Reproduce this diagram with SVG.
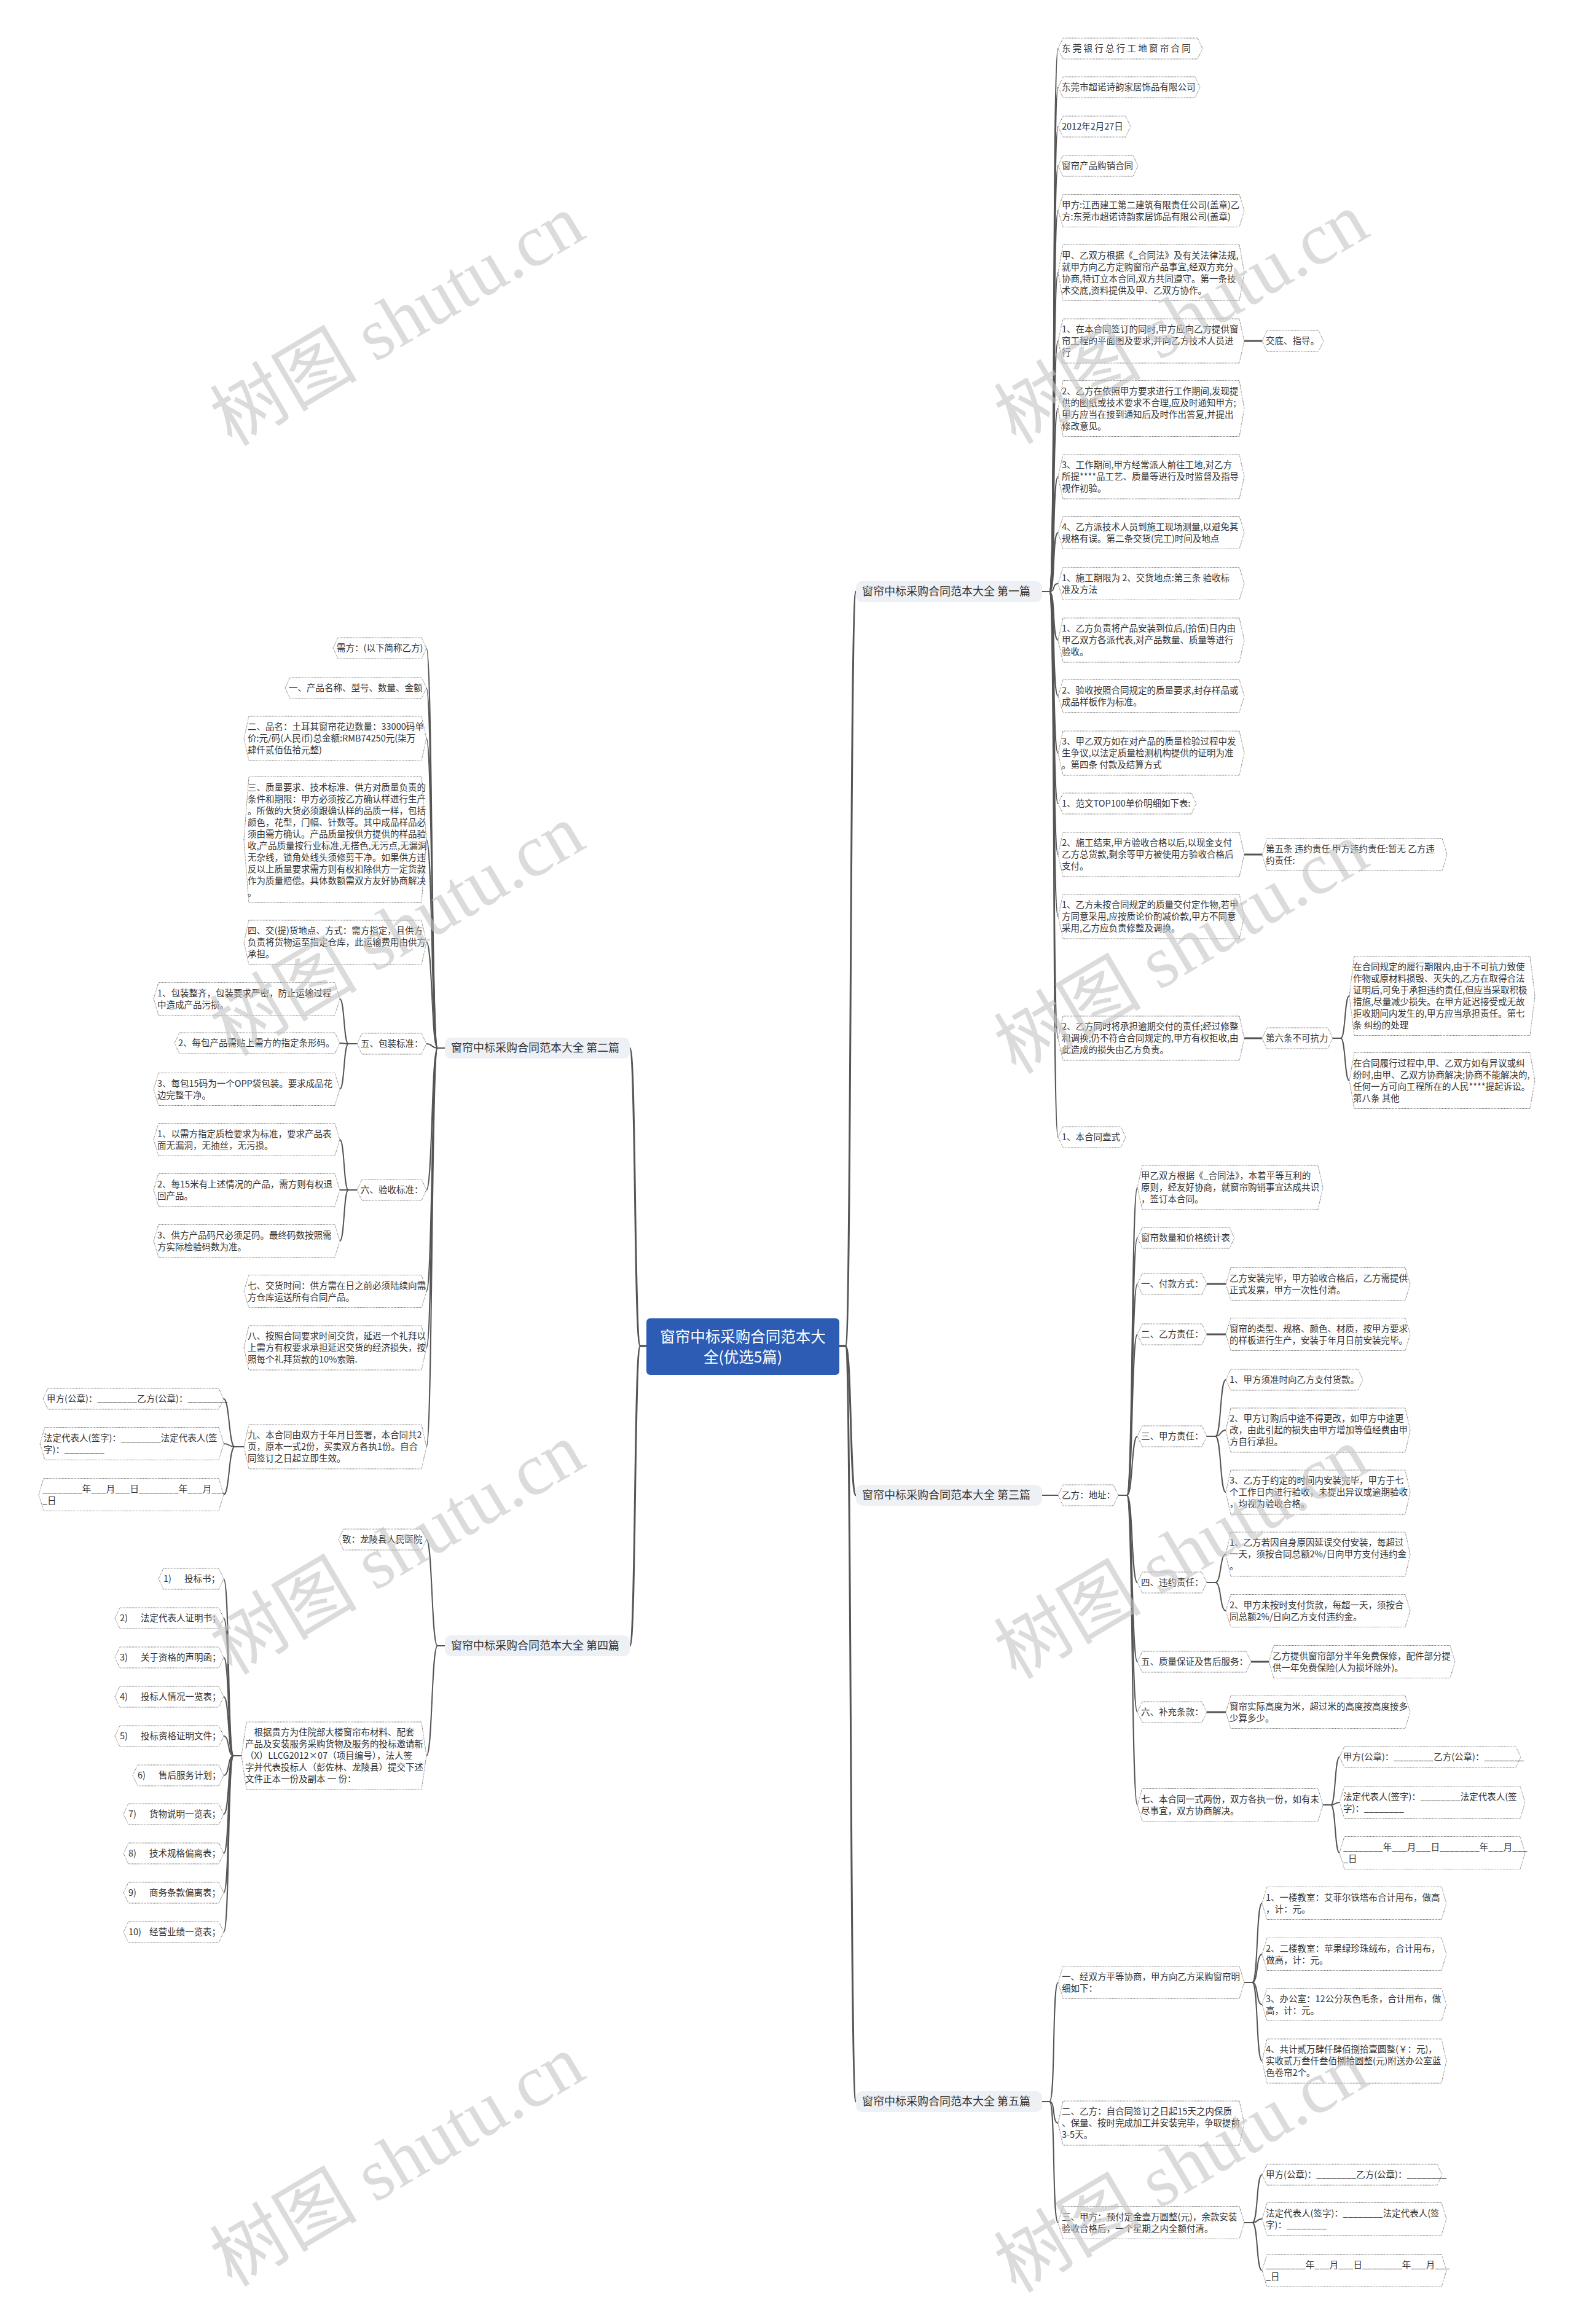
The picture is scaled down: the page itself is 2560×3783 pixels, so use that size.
<svg xmlns="http://www.w3.org/2000/svg" width="2560" height="3783" viewBox="0 0 2560 3783">
<style>
.n{fill:#fff;stroke:#666;stroke-width:1;stroke-dasharray:1.2 1.2}
.t{font-family:"Noto Sans CJK SC","Liberation Sans",sans-serif;font-size:14.5px;fill:#333}
.c{fill:none;stroke:#555;stroke-width:2}
.c3{fill:none;stroke:#555;stroke-width:3}
.lb{fill:#edf0f5}
.lt{font-family:"Noto Sans CJK SC","Liberation Sans",sans-serif;font-size:18px;fill:#333}
.ct{font-family:"Noto Sans CJK SC","Liberation Sans",sans-serif;font-size:24.5px;fill:#fff;text-anchor:middle}
.wm{font-family:"Liberation Serif","Noto Sans CJK SC",serif;font-size:120px;fill:#c4c4c4;opacity:0.6;text-anchor:middle}
</style>
<rect width="2560" height="3783" fill="#fff"/>
<g id="connectors">
<path class="c3" d="M1366,2191 L1376,2191 C1386,2191 1383,963 1393,963"/>
<path class="c3" d="M1366,2191 L1376,2191 C1386,2191 1383,2434 1393,2434"/>
<path class="c3" d="M1366,2191 L1376,2191 C1386,2191 1383,3421 1393,3421"/>
<path class="c3" d="M1052,2191 L1042,2191 C1032,2191 1035,1706 1025,1706"/>
<path class="c3" d="M1052,2191 L1042,2191 C1032,2191 1035,2679 1025,2679"/>
<path class="c" d="M1696,963 L1708,963 C1718,963 1712,79 1722,79"/>
<path class="c" d="M1696,963 L1708,963 C1718,963 1712,142 1722,142"/>
<path class="c" d="M1696,963 L1708,963 C1718,963 1712,206 1722,206"/>
<path class="c" d="M1696,963 L1708,963 C1718,963 1712,270 1722,270"/>
<path class="c" d="M1696,963 L1708,963 C1718,963 1712,343 1722,343"/>
<path class="c" d="M1696,963 L1708,963 C1718,963 1712,444 1722,444"/>
<path class="c" d="M1696,963 L1708,963 C1718,963 1712,555 1722,555"/>
<path class="c" d="M1696,963 L1708,963 C1718,963 1712,665 1722,665"/>
<path class="c" d="M1696,963 L1708,963 C1718,963 1712,776 1722,776"/>
<path class="c" d="M1696,963 L1708,963 C1718,963 1712,867 1722,867"/>
<path class="c" d="M1696,963 L1708,963 C1718,963 1712,950 1722,950"/>
<path class="c" d="M1696,963 L1708,963 C1718,963 1712,1042 1722,1042"/>
<path class="c" d="M1696,963 L1708,963 C1718,963 1712,1133 1722,1133"/>
<path class="c" d="M1696,963 L1708,963 C1718,963 1712,1226 1722,1226"/>
<path class="c" d="M1696,963 L1708,963 C1718,963 1712,1308 1722,1308"/>
<path class="c" d="M1696,963 L1708,963 C1718,963 1712,1391 1722,1391"/>
<path class="c" d="M1696,963 L1708,963 C1718,963 1712,1492 1722,1492"/>
<path class="c" d="M1696,963 L1708,963 C1718,963 1712,1690 1722,1690"/>
<path class="c" d="M1696,963 L1708,963 C1718,963 1712,1851 1722,1851"/>
<path class="c3" d="M2025,555 L2054,555"/>
<path class="c3" d="M2025,1391 L2054,1391"/>
<path class="c3" d="M2025,1690 L2054,1690"/>
<path class="c" d="M2169,1690 L2182,1690 C2190,1690 2188,1621 2196,1621"/>
<path class="c" d="M2169,1690 L2182,1690 C2190,1690 2188,1759 2196,1759"/>
<path class="c" d="M1696,2434 L1722,2434"/>
<path class="c" d="M1820,2434 L1834,2434 C1844,2434 1841,1933 1851,1933"/>
<path class="c" d="M1820,2434 L1834,2434 C1844,2434 1841,2015 1851,2015"/>
<path class="c" d="M1820,2434 L1834,2434 C1844,2434 1841,2090 1851,2090"/>
<path class="c" d="M1820,2434 L1834,2434 C1844,2434 1841,2172 1851,2172"/>
<path class="c" d="M1820,2434 L1834,2434 C1844,2434 1841,2338 1851,2338"/>
<path class="c" d="M1820,2434 L1834,2434 C1844,2434 1841,2576 1851,2576"/>
<path class="c" d="M1820,2434 L1834,2434 C1844,2434 1841,2705 1851,2705"/>
<path class="c" d="M1820,2434 L1834,2434 C1844,2434 1841,2787 1851,2787"/>
<path class="c" d="M1820,2434 L1834,2434 C1844,2434 1841,2938 1851,2938"/>
<path class="c3" d="M1964,2090 L1995,2090"/>
<path class="c3" d="M1964,2172 L1995,2172"/>
<path class="c" d="M1964,2338 L1978,2338 C1988,2338 1985,2246 1995,2246"/>
<path class="c" d="M1964,2338 L1978,2338 C1988,2338 1985,2328 1995,2328"/>
<path class="c" d="M1964,2338 L1978,2338 C1988,2338 1985,2429 1995,2429"/>
<path class="c" d="M1964,2576 L1978,2576 C1988,2576 1985,2530 1995,2530"/>
<path class="c" d="M1964,2576 L1978,2576 C1988,2576 1985,2622 1995,2622"/>
<path class="c3" d="M2036,2705 L2065,2705"/>
<path class="c3" d="M1964,2787 L1995,2787"/>
<path class="c" d="M2153,2938 L2166,2938 C2174,2938 2172,2860 2180,2860"/>
<path class="c" d="M2153,2938 L2166,2938 C2174,2938 2172,2934 2180,2934"/>
<path class="c" d="M2153,2938 L2166,2938 C2174,2938 2172,3016 2180,3016"/>
<path class="c" d="M1696,3421 L1708,3421 C1718,3421 1712,3227 1722,3227"/>
<path class="c" d="M1696,3421 L1708,3421 C1718,3421 1712,3456 1722,3456"/>
<path class="c" d="M1696,3421 L1708,3421 C1718,3421 1712,3618 1722,3618"/>
<path class="c" d="M2025,3227 L2038,3227 C2048,3227 2044,3098 2054,3098"/>
<path class="c" d="M2025,3227 L2038,3227 C2048,3227 2044,3181 2054,3181"/>
<path class="c" d="M2025,3227 L2038,3227 C2048,3227 2044,3263 2054,3263"/>
<path class="c" d="M2025,3227 L2038,3227 C2048,3227 2044,3355 2054,3355"/>
<path class="c" d="M2025,3618 L2038,3618 C2048,3618 2044,3540 2054,3540"/>
<path class="c" d="M2025,3618 L2038,3618 C2048,3618 2044,3612 2054,3612"/>
<path class="c" d="M2025,3618 L2038,3618 C2048,3618 2044,3696 2054,3696"/>
<path class="c" d="M724,1706 L712,1706 C702,1706 704,1055 694,1055"/>
<path class="c" d="M724,1706 L712,1706 C702,1706 704,1120 694,1120"/>
<path class="c" d="M724,1706 L712,1706 C702,1706 704,1202 694,1202"/>
<path class="c" d="M724,1706 L712,1706 C702,1706 704,1367 694,1367"/>
<path class="c" d="M724,1706 L712,1706 C702,1706 704,1534 694,1534"/>
<path class="c" d="M724,1706 L712,1706 C702,1706 704,1699 694,1699"/>
<path class="c" d="M724,1706 L712,1706 C702,1706 704,1937 694,1937"/>
<path class="c" d="M724,1706 L712,1706 C702,1706 704,2102 694,2102"/>
<path class="c" d="M724,1706 L712,1706 C702,1706 704,2194 694,2194"/>
<path class="c" d="M724,1706 L712,1706 C702,1706 704,2355 694,2355"/>
<path class="c" d="M581,1699 L567,1699 C559,1699 561,1626 553,1626"/>
<path class="c" d="M581,1699 L567,1699 C559,1699 561,1698 553,1698"/>
<path class="c" d="M581,1699 L567,1699 C559,1699 561,1773 553,1773"/>
<path class="c" d="M581,1937 L567,1937 C559,1937 561,1855 553,1855"/>
<path class="c" d="M581,1937 L567,1937 C559,1937 561,1937 553,1937"/>
<path class="c" d="M581,1937 L567,1937 C559,1937 561,2020 553,2020"/>
<path class="c" d="M397,2355 L382,2355 C372,2355 374,2277 364,2277"/>
<path class="c" d="M397,2355 L382,2355 C372,2355 374,2350 364,2350"/>
<path class="c" d="M397,2355 L382,2355 C372,2355 374,2433 364,2433"/>
<path class="c" d="M724,2679 L712,2679 C702,2679 704,2506 694,2506"/>
<path class="c" d="M724,2679 L712,2679 C702,2679 704,2858 694,2858"/>
<path class="c" d="M393,2858 L380,2858 C370,2858 374,2570 364,2570"/>
<path class="c" d="M393,2858 L380,2858 C370,2858 374,2634 364,2634"/>
<path class="c" d="M393,2858 L380,2858 C370,2858 374,2698 364,2698"/>
<path class="c" d="M393,2858 L380,2858 C370,2858 374,2762 364,2762"/>
<path class="c" d="M393,2858 L380,2858 C370,2858 374,2826 364,2826"/>
<path class="c" d="M393,2858 L380,2858 C370,2858 374,2890 364,2890"/>
<path class="c" d="M393,2858 L380,2858 C370,2858 374,2953 364,2953"/>
<path class="c" d="M393,2858 L380,2858 C370,2858 374,3017 364,3017"/>
<path class="c" d="M393,2858 L380,2858 C370,2858 374,3081 364,3081"/>
<path class="c" d="M393,2858 L380,2858 C370,2858 374,3145 364,3145"/>
</g>
<g id="center"><rect x="1052" y="2146" width="314" height="92" rx="6" fill="#2c5cb4"/><text class="ct" x="1209" y="2185">窗帘中标采购合同范本大<tspan x="1209" y="2218">全(优选5篇)</tspan></text></g>
<g id="b1"><rect class="lb" x="1393" y="946" width="303" height="34" rx="10"/><text class="lt" x="1403" y="969">窗帘中标采购合同范本大全 第一篇</text></g>
<g id="b3"><rect class="lb" x="1393" y="2417" width="303" height="34" rx="10"/><text class="lt" x="1403" y="2440">窗帘中标采购合同范本大全 第三篇</text></g>
<g id="b5"><rect class="lb" x="1393" y="3404" width="303" height="34" rx="10"/><text class="lt" x="1403" y="3427">窗帘中标采购合同范本大全 第五篇</text></g>
<g id="b2"><rect class="lb" x="724" y="1689" width="301" height="34" rx="10"/><text class="lt" x="734" y="1712">窗帘中标采购合同范本大全 第二篇</text></g>
<g id="b4"><rect class="lb" x="724" y="2662" width="301" height="34" rx="10"/><text class="lt" x="734" y="2685">窗帘中标采购合同范本大全 第四篇</text></g>

<g id="r1n1"><path class="n" d="M1722,79 L1730,62 L1949,62 L1957,79 L1949,96 L1730,96 Z"/><text class="t" x="1728" y="84">东 莞 银 行 总 行 工 地 窗 帘 合 同</text></g>
<g id="r1n2"><path class="n" d="M1722,142 L1730,125 L1945,125 L1953,142 L1945,159 L1730,159 Z"/><text class="t" x="1728" y="147">东莞市超诺诗韵家居饰品有限公司</text></g>
<g id="r1n3"><path class="n" d="M1722,206 L1730,189 L1832,189 L1840,206 L1832,223 L1730,223 Z"/><text class="t" x="1728" y="211">2012年2月27日</text></g>
<g id="r1n4"><path class="n" d="M1722,270 L1730,253 L1844,253 L1852,270 L1844,287 L1730,287 Z"/><text class="t" x="1728" y="275">窗帘产品购销合同</text></g>
<g id="r1n5"><path class="n" d="M1722,343 L1730,316.5 L2017,316.5 L2025,343 L2017,369.5 L1730,369.5 Z"/><text class="t" x="1728" y="338.5">甲方:江西建工第二建筑有限责任公司(盖章)乙<tspan x="1728" dy="19">方:东莞市超诺诗韵家居饰品有限公司(盖章)</tspan></text></g>
<g id="r1n6"><path class="n" d="M1722,444 L1730,398.5 L2017,398.5 L2025,444 L2017,489.5 L1730,489.5 Z"/><text class="t" x="1728" y="420.5">甲、乙双方根据《_合同法》及有关法律法规,<tspan x="1728" dy="19">就甲方向乙方定购窗帘产品事宜,经双方充分</tspan><tspan x="1728" dy="19">协商,特订立本合同,双方共同遵守。第一条技</tspan><tspan x="1728" dy="19">术交底,资料提供及甲、乙双方协作。</tspan></text></g>
<g id="r1n7"><path class="n" d="M1722,555 L1730,519 L2017,519 L2025,555 L2017,591 L1730,591 Z"/><text class="t" x="1728" y="541">1、在本合同签订的同时,甲方应向乙方提供窗<tspan x="1728" dy="19">帘工程的平面图及要求,并向乙方技术人员进</tspan><tspan x="1728" dy="19">行</tspan></text></g>
<g id="r1n7a"><path class="n" d="M2054,555 L2062,538 L2146,538 L2154,555 L2146,572 L2062,572 Z"/><text class="t" x="2060" y="560">交底、指导。</text></g>
<g id="r1n8"><path class="n" d="M1722,665 L1730,619.5 L2017,619.5 L2025,665 L2017,710.5 L1730,710.5 Z"/><text class="t" x="1728" y="641.5">2、乙方在依照甲方要求进行工作期间,发现提<tspan x="1728" dy="19">供的图纸或技术要求不合理,应及时通知甲方;</tspan><tspan x="1728" dy="19">甲方应当在接到通知后及时作出答复,并提出</tspan><tspan x="1728" dy="19">修改意见。</tspan></text></g>
<g id="r1n9"><path class="n" d="M1722,776 L1730,740 L2017,740 L2025,776 L2017,812 L1730,812 Z"/><text class="t" x="1728" y="762">3、工作期间,甲方经常派人前往工地,对乙方<tspan x="1728" dy="19">所提****品工艺、质量等进行及时监督及指导</tspan><tspan x="1728" dy="19">视作初验。</tspan></text></g>
<g id="r1n10"><path class="n" d="M1722,867 L1730,840.5 L2017,840.5 L2025,867 L2017,893.5 L1730,893.5 Z"/><text class="t" x="1728" y="862.5">4、乙方派技术人员到施工现场测量,以避免其<tspan x="1728" dy="19">规格有误。第二条交货(完工)时间及地点</tspan></text></g>
<g id="r1n11"><path class="n" d="M1722,950 L1730,923.5 L2017,923.5 L2025,950 L2017,976.5 L1730,976.5 Z"/><text class="t" x="1728" y="945.5">1、施工期限为 2、交货地点:第三条 验收标<tspan x="1728" dy="19">准及方法</tspan></text></g>
<g id="r1n12"><path class="n" d="M1722,1042 L1730,1006 L2017,1006 L2025,1042 L2017,1078 L1730,1078 Z"/><text class="t" x="1728" y="1028">1、乙方负责将产品安装到位后,(拾伍)日内由<tspan x="1728" dy="19">甲乙双方各派代表,对产品数量、质量等进行</tspan><tspan x="1728" dy="19">验收。</tspan></text></g>
<g id="r1n13"><path class="n" d="M1722,1133 L1730,1106.5 L2017,1106.5 L2025,1133 L2017,1159.5 L1730,1159.5 Z"/><text class="t" x="1728" y="1128.5">2、验收按照合同规定的质量要求,封存样品或<tspan x="1728" dy="19">成品样板作为标准。</tspan></text></g>
<g id="r1n14"><path class="n" d="M1722,1226 L1730,1190 L2017,1190 L2025,1226 L2017,1262 L1730,1262 Z"/><text class="t" x="1728" y="1212">3、甲乙双方如在对产品的质量检验过程中发<tspan x="1728" dy="19">生争议,以法定质量检测机构提供的证明为准</tspan><tspan x="1728" dy="19">。第四条 付款及结算方式</tspan></text></g>
<g id="r1n15"><path class="n" d="M1722,1308 L1730,1291 L1939,1291 L1947,1308 L1939,1325 L1730,1325 Z"/><text class="t" x="1728" y="1313">1、范文TOP100单价明细如下表:</text></g>
<g id="r1n16"><path class="n" d="M1722,1391 L1730,1355 L2017,1355 L2025,1391 L2017,1427 L1730,1427 Z"/><text class="t" x="1728" y="1377">2、施工结束,甲方验收合格以后,以现金支付<tspan x="1728" dy="19">乙方总货款,剩余等甲方被使用方验收合格后</tspan><tspan x="1728" dy="19">支付。</tspan></text></g>
<g id="r1n16a"><path class="n" d="M2054,1391 L2062,1364.5 L2347,1364.5 L2355,1391 L2347,1417.5 L2062,1417.5 Z"/><text class="t" x="2060" y="1386.5">第五条 违约责任 甲方违约责任:暂无 乙方违<tspan x="2060" dy="19">约责任:</tspan></text></g>
<g id="r1n17"><path class="n" d="M1722,1492 L1730,1456 L2017,1456 L2025,1492 L2017,1528 L1730,1528 Z"/><text class="t" x="1728" y="1478">1、乙方未按合同规定的质量交付定作物,若甲<tspan x="1728" dy="19">方同意采用,应按质论价酌减价款,甲方不同意</tspan><tspan x="1728" dy="19">采用,乙方应负责修整及调换。</tspan></text></g>
<g id="r1n18"><path class="n" d="M1722,1690 L1730,1654 L2017,1654 L2025,1690 L2017,1726 L1730,1726 Z"/><text class="t" x="1728" y="1676">2、乙方同时将承担逾期交付的责任;经过修整<tspan x="1728" dy="19">和调换,仍不符合合同规定的,甲方有权拒收,由</tspan><tspan x="1728" dy="19">此造成的损失由乙方负责。</tspan></text></g>
<g id="r1n18a"><path class="n" d="M2054,1690 L2062,1673 L2161,1673 L2169,1690 L2161,1707 L2062,1707 Z"/><text class="t" x="2060" y="1695">第六条不可抗力</text></g>
<g id="r1n18b"><path class="n" d="M2196,1621 L2204,1556.5 L2490,1556.5 L2498,1621 L2490,1685.5 L2204,1685.5 Z"/><text class="t" x="2202" y="1578.5">在合同规定的履行期限内,由于不可抗力致使<tspan x="2202" dy="19">作物或原材料损毁、灭失的,乙方在取得合法</tspan><tspan x="2202" dy="19">证明后,可免于承担违约责任,但应当采取积极</tspan><tspan x="2202" dy="19">措施,尽量减少损失。在甲方延迟接受或无故</tspan><tspan x="2202" dy="19">拒收期间内发生的,甲方应当承担责任。第七</tspan><tspan x="2202" dy="19">条 纠纷的处理</tspan></text></g>
<g id="r1n18c"><path class="n" d="M2196,1759 L2204,1713.5 L2490,1713.5 L2498,1759 L2490,1804.5 L2204,1804.5 Z"/><text class="t" x="2202" y="1735.5">在合同履行过程中,甲、乙双方如有异议或纠<tspan x="2202" dy="19">纷时,由甲、乙双方协商解决;协商不能解决的,</tspan><tspan x="2202" dy="19">任何一方可向工程所在的人民****提起诉讼。</tspan><tspan x="2202" dy="19">第八条 其他</tspan></text></g>
<g id="r1n19"><path class="n" d="M1722,1851 L1730,1834 L1824,1834 L1832,1851 L1824,1868 L1730,1868 Z"/><text class="t" x="1728" y="1856">1、本合同壹式</text></g>

<g id="r3a"><path class="n" d="M1722,2434 L1730,2417 L1812,2417 L1820,2434 L1812,2451 L1730,2451 Z"/><text class="t" x="1728" y="2439">乙方：地址：</text></g>
<g id="r3c1"><path class="n" d="M1851,1933 L1859,1897 L2145,1897 L2153,1933 L2145,1969 L1859,1969 Z"/><text class="t" x="1857" y="1919">甲乙双方根据《_合同法》，本着平等互利的<tspan x="1857" dy="19">原则，经友好协商，就窗帘购销事宜达成共识</tspan><tspan x="1857" dy="19">，签订本合同。</tspan></text></g>
<g id="r3c2"><path class="n" d="M1851,2015 L1859,1998 L2001,1998 L2009,2015 L2001,2032 L1859,2032 Z"/><text class="t" x="1857" y="2020">窗帘数量和价格统计表</text></g>
<g id="r3c3"><path class="n" d="M1851,2090 L1859,2073 L1956,2073 L1964,2090 L1956,2107 L1859,2107 Z"/><text class="t" x="1857" y="2095">一、付款方式：</text></g>
<g id="r3c3a"><path class="n" d="M1995,2090 L2003,2063.5 L2287,2063.5 L2295,2090 L2287,2116.5 L2003,2116.5 Z"/><text class="t" x="2001" y="2085.5">乙方安装完毕，甲方验收合格后，乙方需提供<tspan x="2001" dy="19">正式发票，甲方一次性付清。</tspan></text></g>
<g id="r3c4"><path class="n" d="M1851,2172 L1859,2155 L1956,2155 L1964,2172 L1956,2189 L1859,2189 Z"/><text class="t" x="1857" y="2177">二、乙方责任：</text></g>
<g id="r3c4a"><path class="n" d="M1995,2172 L2003,2145.5 L2287,2145.5 L2295,2172 L2287,2198.5 L2003,2198.5 Z"/><text class="t" x="2001" y="2167.5">窗帘的类型、规格、颜色、材质，按甲方要求<tspan x="2001" dy="19">的样板进行生产，安装于年月日前安装完毕。</tspan></text></g>
<g id="r3c5"><path class="n" d="M1851,2338 L1859,2321 L1956,2321 L1964,2338 L1956,2355 L1859,2355 Z"/><text class="t" x="1857" y="2343">三、甲方责任：</text></g>
<g id="r3c5a"><path class="n" d="M1995,2246 L2003,2229 L2210,2229 L2218,2246 L2210,2263 L2003,2263 Z"/><text class="t" x="2001" y="2251">1、甲方须准时向乙方支付货款。</text></g>
<g id="r3c5b"><path class="n" d="M1995,2328 L2003,2292 L2287,2292 L2295,2328 L2287,2364 L2003,2364 Z"/><text class="t" x="2001" y="2314">2、甲方订购后中途不得更改，如甲方中途更<tspan x="2001" dy="19">改，由此引起的损失由甲方增加等值经费由甲</tspan><tspan x="2001" dy="19">方自行承担。</tspan></text></g>
<g id="r3c5c"><path class="n" d="M1995,2429 L2003,2393 L2287,2393 L2295,2429 L2287,2465 L2003,2465 Z"/><text class="t" x="2001" y="2415">3、乙方于约定的时间内安装完毕，甲方于七<tspan x="2001" dy="19">个工作日内进行验收，未提出异议或逾期验收</tspan><tspan x="2001" dy="19">，均视为验收合格。</tspan></text></g>
<g id="r3c6"><path class="n" d="M1851,2576 L1859,2559 L1956,2559 L1964,2576 L1956,2593 L1859,2593 Z"/><text class="t" x="1857" y="2581">四、违约责任：</text></g>
<g id="r3c6a"><path class="n" d="M1995,2530 L2003,2494 L2287,2494 L2295,2530 L2287,2566 L2003,2566 Z"/><text class="t" x="2001" y="2516">1、乙方若因自身原因延误交付安装，每超过<tspan x="2001" dy="19">一天，须按合同总额2%/日向甲方支付违约金</tspan><tspan x="2001" dy="19">。</tspan></text></g>
<g id="r3c6b"><path class="n" d="M1995,2622 L2003,2595.5 L2287,2595.5 L2295,2622 L2287,2648.5 L2003,2648.5 Z"/><text class="t" x="2001" y="2617.5">2、甲方未按时支付货款，每超一天，须按合<tspan x="2001" dy="19">同总额2%/日向乙方支付违约金。</tspan></text></g>
<g id="r3c7"><path class="n" d="M1851,2705 L1859,2688 L2028,2688 L2036,2705 L2028,2722 L1859,2722 Z"/><text class="t" x="1857" y="2710">五、质量保证及售后服务：</text></g>
<g id="r3c7a"><path class="n" d="M2065,2705 L2073,2678.5 L2360,2678.5 L2368,2705 L2360,2731.5 L2073,2731.5 Z"/><text class="t" x="2071" y="2700.5">乙方提供窗帘部分半年免费保修，配件部分提<tspan x="2071" dy="19">供一年免费保险(人为损坏除外)。</tspan></text></g>
<g id="r3c8"><path class="n" d="M1851,2787 L1859,2770 L1956,2770 L1964,2787 L1956,2804 L1859,2804 Z"/><text class="t" x="1857" y="2792">六、补充条款：</text></g>
<g id="r3c8a"><path class="n" d="M1995,2787 L2003,2760.5 L2287,2760.5 L2295,2787 L2287,2813.5 L2003,2813.5 Z"/><text class="t" x="2001" y="2782.5">窗帘实际高度为米，超过米的高度按高度接多<tspan x="2001" dy="19">少算多少。</tspan></text></g>
<g id="r3c9"><path class="n" d="M1851,2938 L1859,2911.5 L2145,2911.5 L2153,2938 L2145,2964.5 L1859,2964.5 Z"/><text class="t" x="1857" y="2933.5">七、本合同一式两份，双方各执一份，如有未<tspan x="1857" dy="19">尽事宜，双方协商解决。</tspan></text></g>
<g id="r3c9a"><path class="n" d="M2180,2860 L2188,2843 L2467,2843 L2475,2860 L2467,2877 L2188,2877 Z"/><text class="t" x="2186" y="2865">甲方(公章)：________乙方(公章)：________</text></g>
<g id="r3c9b"><path class="n" d="M2180,2934 L2188,2907.5 L2474,2907.5 L2482,2934 L2474,2960.5 L2188,2960.5 Z"/><text class="t" x="2186" y="2929.5">法定代表人(签字)：________法定代表人(签<tspan x="2186" dy="19">字)：________</tspan></text></g>
<g id="r3c9c"><path class="n" d="M2180,3016 L2188,2989.5 L2474,2989.5 L2482,3016 L2474,3042.5 L2188,3042.5 Z"/><text class="t" x="2186" y="3011.5">________年___月___日________年___月___<tspan x="2186" dy="19">_日</tspan></text></g>

<g id="r5d1"><path class="n" d="M1722,3227 L1730,3200.5 L2017,3200.5 L2025,3227 L2017,3253.5 L1730,3253.5 Z"/><text class="t" x="1728" y="3222.5">一、经双方平等协商，甲方向乙方采购窗帘明<tspan x="1728" dy="19">细如下：</tspan></text></g>
<g id="r5d1a"><path class="n" d="M2054,3098 L2062,3071.5 L2346,3071.5 L2354,3098 L2346,3124.5 L2062,3124.5 Z"/><text class="t" x="2060" y="3093.5">1、一楼教室：艾菲尔铁塔布合计用布，做高<tspan x="2060" dy="19">，计：元。</tspan></text></g>
<g id="r5d1b"><path class="n" d="M2054,3181 L2062,3154.5 L2346,3154.5 L2354,3181 L2346,3207.5 L2062,3207.5 Z"/><text class="t" x="2060" y="3176.5">2、二楼教室：苹果绿珍珠绒布，合计用布，<tspan x="2060" dy="19">做高，计：元。</tspan></text></g>
<g id="r5d1c"><path class="n" d="M2054,3263 L2062,3236.5 L2346,3236.5 L2354,3263 L2346,3289.5 L2062,3289.5 Z"/><text class="t" x="2060" y="3258.5">3、办公室：12公分灰色毛条，合计用布，做<tspan x="2060" dy="19">高，计：元。</tspan></text></g>
<g id="r5d1d"><path class="n" d="M2054,3355 L2062,3319 L2346,3319 L2354,3355 L2346,3391 L2062,3391 Z"/><text class="t" x="2060" y="3341">4、共计贰万肆仟肆佰捌拾壹圆整(￥：元)，<tspan x="2060" dy="19">实收贰万叁仟叁佰捌拾圆整(元)附送办公室蓝</tspan><tspan x="2060" dy="19">色卷帘2个。</tspan></text></g>
<g id="r5d2"><path class="n" d="M1722,3456 L1730,3420 L2017,3420 L2025,3456 L2017,3492 L1730,3492 Z"/><text class="t" x="1728" y="3442">二、乙方：自合同签订之日起15天之内保质<tspan x="1728" dy="19">、保量、按时完成加工并安装完毕，争取提前</tspan><tspan x="1728" dy="19">3-5天。</tspan></text></g>
<g id="r5d3"><path class="n" d="M1722,3618 L1730,3591.5 L2017,3591.5 L2025,3618 L2017,3644.5 L1730,3644.5 Z"/><text class="t" x="1728" y="3613.5">三、甲方：预付定金壹万圆整(元)，余款安装<tspan x="1728" dy="19">验收合格后，一个星期之内全额付清。</tspan></text></g>
<g id="r5d3a"><path class="n" d="M2054,3540 L2062,3523 L2339,3523 L2347,3540 L2339,3557 L2062,3557 Z"/><text class="t" x="2060" y="3545">甲方(公章)：________乙方(公章)：________</text></g>
<g id="r5d3b"><path class="n" d="M2054,3612 L2062,3585.5 L2346,3585.5 L2354,3612 L2346,3638.5 L2062,3638.5 Z"/><text class="t" x="2060" y="3607.5">法定代表人(签字)：________法定代表人(签<tspan x="2060" dy="19">字)：________</tspan></text></g>
<g id="r5d3c"><path class="n" d="M2054,3696 L2062,3669.5 L2346,3669.5 L2354,3696 L2346,3722.5 L2062,3722.5 Z"/><text class="t" x="2060" y="3691.5">________年___月___日________年___月___<tspan x="2060" dy="19">_日</tspan></text></g>

<g id="l2e1"><path class="n" d="M542,1055 L550,1038 L686,1038 L694,1055 L686,1072 L550,1072 Z"/><text class="t" x="548" y="1060">需方：(以下简称乙方)</text></g>
<g id="l2e2"><path class="n" d="M464,1120 L472,1103 L686,1103 L694,1120 L686,1137 L472,1137 Z"/><text class="t" x="470" y="1125">一、产品名称、型号、数量、金额</text></g>
<g id="l2e3"><path class="n" d="M397,1202 L405,1166 L686,1166 L694,1202 L686,1238 L405,1238 Z"/><text class="t" x="403" y="1188">二、品名：土耳其窗帘花边数量：33000码单<tspan x="403" dy="19">价:元/码(人民币)总金额:RMB74250元(柒万</tspan><tspan x="403" dy="19">肆仟贰佰伍拾元整)</tspan></text></g>
<g id="l2e4"><path class="n" d="M397,1367 L405,1264.5 L686,1264.5 L694,1367 L686,1469.5 L405,1469.5 Z"/><text class="t" x="403" y="1286.5">三、质量要求、技术标准、供方对质量负责的<tspan x="403" dy="19">条件和期限：甲方必须按乙方确认样进行生产</tspan><tspan x="403" dy="19">。所做的大货必须跟确认样的品质一样，包括</tspan><tspan x="403" dy="19">颜色，花型，门幅、针数等。其中成品样品必</tspan><tspan x="403" dy="19">须由需方确认。产品质量按供方提供的样品验</tspan><tspan x="403" dy="19">收,产品质量按行业标准,无搭色,无污点,无漏洞</tspan><tspan x="403" dy="19">无杂线，锁角处线头须修剪干净。如果供方违</tspan><tspan x="403" dy="19">反以上质量要求需方则有权扣除供方一定货款</tspan><tspan x="403" dy="19">作为质量赔偿。具体数额需双方友好协商解决</tspan><tspan x="403" dy="19">。</tspan></text></g>
<g id="l2e5"><path class="n" d="M397,1534 L405,1498 L686,1498 L694,1534 L686,1570 L405,1570 Z"/><text class="t" x="403" y="1520">四、交(提)货地点、方式：需方指定，且供方<tspan x="403" dy="19">负责将货物运至指定仓库，此运输费用由供方</tspan><tspan x="403" dy="19">承担。</tspan></text></g>
<g id="l2e6"><path class="n" d="M581,1699 L589,1682 L686,1682 L694,1699 L686,1716 L589,1716 Z"/><text class="t" x="587" y="1704">五、包装标准：</text></g>
<g id="l2e6a"><path class="n" d="M250,1626 L258,1599.5 L545,1599.5 L553,1626 L545,1652.5 L258,1652.5 Z"/><text class="t" x="256" y="1621.5">1、包装整齐，包装要求严密，防止运输过程<tspan x="256" dy="19">中造成产品污损。</tspan></text></g>
<g id="l2e6b"><path class="n" d="M284,1698 L292,1681 L545,1681 L553,1698 L545,1715 L292,1715 Z"/><text class="t" x="290" y="1703">2、每包产品需贴上需方的指定条形码。</text></g>
<g id="l2e6c"><path class="n" d="M250,1773 L258,1746.5 L545,1746.5 L553,1773 L545,1799.5 L258,1799.5 Z"/><text class="t" x="256" y="1768.5">3、每包15码为一个OPP袋包装。要求成品花<tspan x="256" dy="19">边完整干净。</tspan></text></g>
<g id="l2e7"><path class="n" d="M581,1937 L589,1920 L686,1920 L694,1937 L686,1954 L589,1954 Z"/><text class="t" x="587" y="1942">六、验收标准：</text></g>
<g id="l2e7a"><path class="n" d="M250,1855 L258,1828.5 L545,1828.5 L553,1855 L545,1881.5 L258,1881.5 Z"/><text class="t" x="256" y="1850.5">1、以需方指定质检要求为标准，要求产品表<tspan x="256" dy="19">面无漏洞，无抽丝，无污损。</tspan></text></g>
<g id="l2e7b"><path class="n" d="M250,1937 L258,1910.5 L545,1910.5 L553,1937 L545,1963.5 L258,1963.5 Z"/><text class="t" x="256" y="1932.5">2、每15米有上述情况的产品，需方则有权退<tspan x="256" dy="19">回产品。</tspan></text></g>
<g id="l2e7c"><path class="n" d="M250,2020 L258,1993.5 L545,1993.5 L553,2020 L545,2046.5 L258,2046.5 Z"/><text class="t" x="256" y="2015.5">3、供方产品码尺必须足码。最终码数按照需<tspan x="256" dy="19">方实际检验码数为准。</tspan></text></g>
<g id="l2e8"><path class="n" d="M397,2102 L405,2075.5 L686,2075.5 L694,2102 L686,2128.5 L405,2128.5 Z"/><text class="t" x="403" y="2097.5">七、交货时间：供方需在日之前必须陆续向需<tspan x="403" dy="19">方仓库运送所有合同产品。</tspan></text></g>
<g id="l2e9"><path class="n" d="M397,2194 L405,2158 L686,2158 L694,2194 L686,2230 L405,2230 Z"/><text class="t" x="403" y="2180">八、按照合同要求时间交货，延迟一个礼拜以<tspan x="403" dy="19">上需方有权要求承担延迟交货的经济损失，按</tspan><tspan x="403" dy="19">照每个礼拜货款的10%索赔.</tspan></text></g>
<g id="l2e10"><path class="n" d="M397,2355 L405,2319 L686,2319 L694,2355 L686,2391 L405,2391 Z"/><text class="t" x="403" y="2341">九、本合同由双方于年月日签署，本合同共2<tspan x="403" dy="19">页，原本一式2份，买卖双方各执1份。自合</tspan><tspan x="403" dy="19">同签订之日起立即生效。</tspan></text></g>
<g id="l2e10a"><path class="n" d="M70,2277 L78,2260 L356,2260 L364,2277 L356,2294 L78,2294 Z"/><text class="t" x="76" y="2282">甲方(公章)：________乙方(公章)：________</text></g>
<g id="l2e10b"><path class="n" d="M65,2350 L73,2323.5 L356,2323.5 L364,2350 L356,2376.5 L73,2376.5 Z"/><text class="t" x="71" y="2345.5">法定代表人(签字)：________法定代表人(签<tspan x="71" dy="19">字)：________</tspan></text></g>
<g id="l2e10c"><path class="n" d="M63,2433 L71,2406.5 L356,2406.5 L364,2433 L356,2459.5 L71,2459.5 Z"/><text class="t" x="69" y="2428.5">________年___月___日________年___月___<tspan x="69" dy="19">_日</tspan></text></g>

<g id="l4f1"><path class="n" d="M551,2506 L559,2489 L686,2489 L694,2506 L686,2523 L559,2523 Z"/><text class="t" x="557" y="2511">致：龙陵县人民医院</text></g>
<g id="l4f2"><path class="n" d="M393,2858 L401,2803 L686,2803 L694,2858 L686,2913 L401,2913 Z"/><text class="t" x="399" y="2825">　根据贵方为住院部大楼窗帘布材料、配套<tspan x="399" dy="19">产品及安装服务采购货物及服务的投标邀请新</tspan><tspan x="399" dy="19">（X）LLCG2012×07（项目编号），法人签</tspan><tspan x="399" dy="19">字并代表投标人（彭佐林、龙陵县）提交下述</tspan><tspan x="399" dy="19">文件正本一份及副本 一 份：</tspan></text></g>
<g id="l4k1"><path class="n" d="M258,2570 L266,2553 L356,2553 L364,2570 L356,2587 L266,2587 Z"/><text class="t" x="266" y="2575">1)<tspan x="300">投标书；</tspan></text></g>
<g id="l4k2"><path class="n" d="M187,2634 L195,2617 L356,2617 L364,2634 L356,2651 L195,2651 Z"/><text class="t" x="195" y="2639">2)<tspan x="229">法定代表人证明书；</tspan></text></g>
<g id="l4k3"><path class="n" d="M187,2698 L195,2681 L356,2681 L364,2698 L356,2715 L195,2715 Z"/><text class="t" x="195" y="2703">3)<tspan x="229">关于资格的声明函；</tspan></text></g>
<g id="l4k4"><path class="n" d="M187,2762 L195,2745 L356,2745 L364,2762 L356,2779 L195,2779 Z"/><text class="t" x="195" y="2767">4)<tspan x="229">投标人情况一览表；</tspan></text></g>
<g id="l4k5"><path class="n" d="M187,2826 L195,2809 L356,2809 L364,2826 L356,2843 L195,2843 Z"/><text class="t" x="195" y="2831">5)<tspan x="229">投标资格证明文件；</tspan></text></g>
<g id="l4k6"><path class="n" d="M216,2890 L224,2873 L356,2873 L364,2890 L356,2907 L224,2907 Z"/><text class="t" x="224" y="2895">6)<tspan x="258">售后服务计划；</tspan></text></g>
<g id="l4k7"><path class="n" d="M201,2953 L209,2936 L356,2936 L364,2953 L356,2970 L209,2970 Z"/><text class="t" x="209" y="2958">7)<tspan x="243">货物说明一览表；</tspan></text></g>
<g id="l4k8"><path class="n" d="M201,3017 L209,3000 L356,3000 L364,3017 L356,3034 L209,3034 Z"/><text class="t" x="209" y="3022">8)<tspan x="243">技术规格偏离表；</tspan></text></g>
<g id="l4k9"><path class="n" d="M201,3081 L209,3064 L356,3064 L364,3081 L356,3098 L209,3098 Z"/><text class="t" x="209" y="3086">9)<tspan x="243">商务条款偏离表；</tspan></text></g>
<g id="l4k10"><path class="n" d="M201,3145 L209,3128 L356,3128 L364,3145 L356,3162 L209,3162 Z"/><text class="t" x="209" y="3150">10)<tspan x="243">经营业绩一览表；</tspan></text></g>

<g id="watermarks">
<text class="wm" transform="translate(647,522) rotate(-30.6)" y="40">树图 shutu.cn</text>
<text class="wm" transform="translate(1923,519) rotate(-30.6)" y="40">树图 shutu.cn</text>
<text class="wm" transform="translate(647,1515) rotate(-30.6)" y="40">树图 shutu.cn</text>
<text class="wm" transform="translate(1923,1544) rotate(-30.6)" y="40">树图 shutu.cn</text>
<text class="wm" transform="translate(647,2522) rotate(-30.6)" y="40">树图 shutu.cn</text>
<text class="wm" transform="translate(1923,2529) rotate(-30.6)" y="40">树图 shutu.cn</text>
<text class="wm" transform="translate(647,3518) rotate(-30.6)" y="40">树图 shutu.cn</text>
<text class="wm" transform="translate(1923,3528) rotate(-30.6)" y="40">树图 shutu.cn</text>
</g>
</svg>
